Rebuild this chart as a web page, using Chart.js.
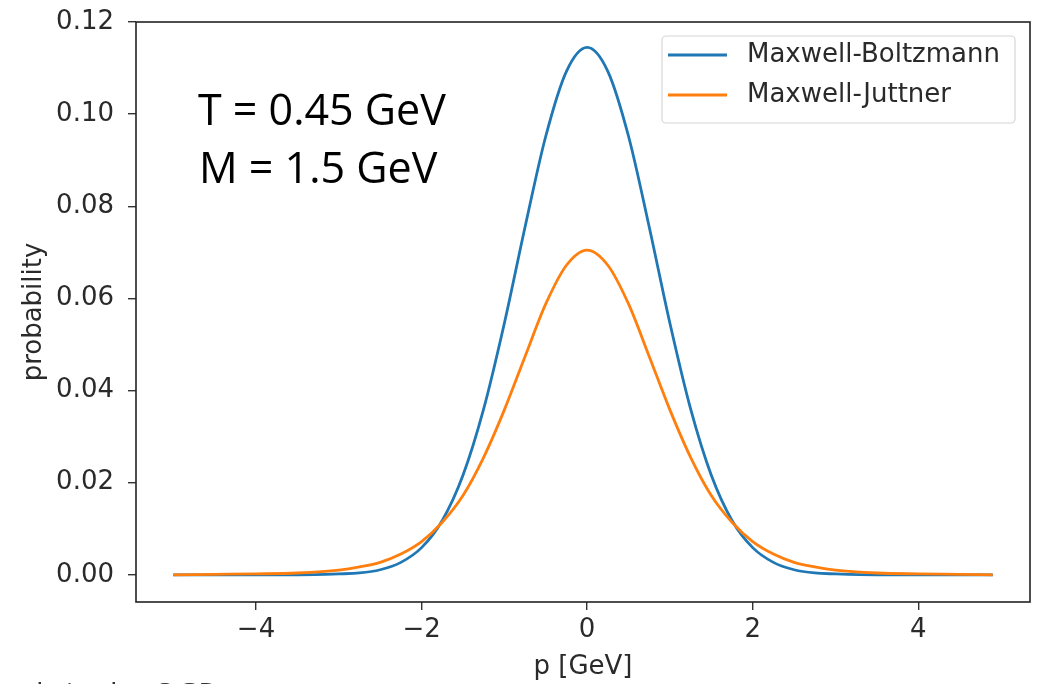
<!DOCTYPE html>
<html>
<head>
<meta charset="utf-8">
<script src="https://cdn.jsdelivr.net/npm/chart.js@4.4.0/dist/chart.umd.min.js"></script>
<style>
  html, body { margin: 0; padding: 0; background: #fff; }
  #wrap { width: 1041px; height: 684px; position: relative; }
</style>
</head>
<body>
<div id="wrap"><canvas id="graphique" width="1041" height="684"></canvas></div>
<script>
// valeurs
const pValeurs = [-5, -4.5, -4, -3.5, -3, -2.75, -2.5, -2.25, -2, -1.75, -1.5, -1.25, -1, -0.75, -0.5, -0.25,
    0, 0.25, 0.5, 0.75, 1, 1.25, 1.5, 1.75, 2, 2.25, 2.5, 2.75, 3, 3.5, 4, 4.5, 4.9];
const boltzmann = [0, 0, 0, 0, 0.0002, 0.0004, 0.0011, 0.0027, 0.0059, 0.0118, 0.0216, 0.0360, 0.0546, 0.0755, 0.0952, 0.1093,
    0.1145, 0.1093, 0.0952, 0.0755, 0.0546, 0.0360, 0.0216, 0.0118, 0.0059, 0.0027, 0.0011, 0.0004, 0.0002, 0, 0, 0, 0];
const juttner = [0, 0.0001, 0.0002, 0.0004, 0.0010, 0.0017, 0.0027, 0.0045, 0.0072, 0.0114, 0.0172, 0.0255, 0.0358, 0.0474, 0.0588, 0.0672,
    0.0705, 0.0672, 0.0588, 0.0474, 0.0358, 0.0255, 0.0172, 0.0114, 0.0072, 0.0045, 0.0027, 0.0017, 0.0010, 0.0004, 0.0002, 0.0001, 0];
const ticksX = [-4, -2, 0, 2, 4];
const ticksY = [0, 0.02, 0.04, 0.06, 0.08, 0.10, 0.12];
const etiquettes = ['Maxwell-Boltzmann', 'Maxwell-Juttner'];
const couleurs = ['#1f77b4', '#ff7f0e'];
const annotations = ['T = 0.45 GeV', 'M = 1.5 GeV'];

const policeMpl = "'DejaVu Sans', sans-serif";
const texteCouleur = '#2a2a2a';

function points(ys) {
    return pValeurs.map((p, i) => ({ x: p, y: ys[i] }));
}

// cadre + legende + texte annote
const cadrePlugin = {
    id: 'cadre',
    afterDatasetsDraw(chart) {
        const ctx = chart.ctx;
        const a = chart.chartArea;
        ctx.save();
        ctx.strokeStyle = '#222';
        ctx.lineWidth = 1.6;
        ctx.strokeRect(a.left, a.top, a.right - a.left, a.bottom - a.top);

        // texte T / M
        ctx.fillStyle = '#000';
        ctx.font = "43px 'Open Sans', sans-serif";
        ctx.textBaseline = 'alphabetic';
        ctx.fillText(annotations[0], 198, 125);
        ctx.fillText(annotations[1], 199, 183);

        // legende
        const bx = 662, by = 36, bw = 353, bh = 87;
        ctx.fillStyle = 'rgba(255,255,255,0.8)';
        ctx.strokeStyle = '#d6d6d6';
        ctx.lineWidth = 1.2;
        ctx.beginPath();
        ctx.roundRect(bx, by, bw, bh, 4);
        ctx.fill();
        ctx.stroke();
        ctx.font = '26px ' + policeMpl;
        ctx.textBaseline = 'middle';
        chart.data.datasets.forEach((ds, i) => {
            const y = by + 19 + i * 40;
            ctx.strokeStyle = ds.borderColor;
            ctx.lineWidth = 2.8;
            ctx.beginPath();
            ctx.moveTo(bx + 6, y);
            ctx.lineTo(bx + 65, y);
            ctx.stroke();
            ctx.fillStyle = texteCouleur;
            ctx.fillText(ds.label, bx + 85, y);
        });

        // texte coupe en bas de l'image
        ctx.fillStyle = '#333';
        ctx.font = "30px 'Open Sans', sans-serif";
        ctx.textBaseline = 'alphabetic';
        ctx.fillText('ls in the QGP', 36, 704);
        ctx.restore();
    }
};

const ctx = document.getElementById('graphique').getContext('2d');
new Chart(ctx, {
    type: 'line',
    data: {
        datasets: [
            { label: etiquettes[0], data: points(boltzmann), borderColor: couleurs[0], order: 1 },
            { label: etiquettes[1], data: points(juttner), borderColor: couleurs[1], order: 0 }
        ]
    },
    options: {
        responsive: false,
        animation: false,
        devicePixelRatio: 1,
        layout: { padding: { left: 0, right: 11, top: 22, bottom: 0 } },
        elements: {
            point: { radius: 0 },
            line: { borderWidth: 2.8, cubicInterpolationMode: 'monotone', fill: false }
        },
        plugins: {
            legend: { display: false },
            tooltip: { enabled: false }
        },
        scales: {
            x: {
                type: 'linear',
                min: -5.45,
                max: 5.35,
                afterBuildTicks: (axis) => { axis.ticks = ticksX.map(v => ({ value: v })); },
                afterFit: (axis) => {
                    axis.height = 82;
                    axis.paddingLeft = 0;
                    axis.paddingRight = 0;
                },
                border: { display: false },
                grid: { drawOnChartArea: false, drawTicks: true, tickLength: 8, tickColor: '#333', lineWidth: 1.4 },
                ticks: {
                    color: texteCouleur,
                    font: { family: policeMpl, size: 26 },
                    padding: 5,
                    maxRotation: 0,
                    callback: (v) => String(v).replace('-', '\u2212')
                },
                title: {
                    display: true,
                    text: 'p [GeV]',
                    color: texteCouleur,
                    font: { family: policeMpl, size: 26 },
                    padding: { top: 0, bottom: 1 }
                }
            },
            y: {
                type: 'linear',
                min: -0.0059,
                max: 0.12,
                afterBuildTicks: (axis) => { axis.ticks = ticksY.map(v => ({ value: v })); },
                afterFit: (axis) => {
                    axis.width = 136;
                    axis.paddingTop = 0;
                    axis.paddingBottom = 0;
                },
                border: { display: false },
                grid: { drawOnChartArea: false, drawTicks: true, tickLength: 8, tickColor: '#333', lineWidth: 1.4 },
                ticks: {
                    color: texteCouleur,
                    font: { family: policeMpl, size: 26 },
                    padding: 14,
                    callback: (v) => v.toFixed(2)
                },
                title: {
                    display: true,
                    text: 'probability',
                    color: texteCouleur,
                    font: { family: policeMpl, size: 26 },
                    padding: { top: 19, bottom: 0 }
                }
            }
        }
    },
    plugins: [cadrePlugin]
});
</script>
</body>
</html>
